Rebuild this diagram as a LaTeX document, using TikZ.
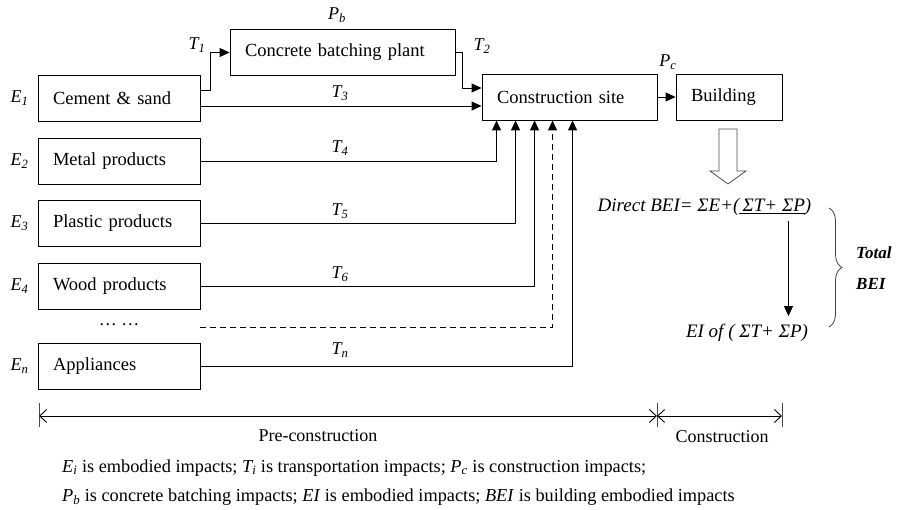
\documentclass[tikz,border=0pt]{standalone}
\usepackage{fontspec}
\setmainfont{Liberation Serif}
\usetikzlibrary{arrows.meta,positioning,decorations.pathreplacing}

\tikzset{
  box/.style={draw, line width=0.9pt, minimum height=46pt, inner xsep=15pt, inner ysep=0pt,
    align=left, font=\fontsize{18.5}{22}\selectfont},
  lbl/.style={inner sep=0pt, font=\fontsize{18}{22}\selectfont\itshape},
  txt/.style={inner sep=0pt, font=\fontsize{18}{22}\selectfont},
  arr/.style={line width=0.9pt, -{Triangle[length=10pt,width=9pt]}},
  span/.style={line width=0.9pt, {Straight Barb[length=7pt,width=13pt]}-{Straight Barb[length=7pt,width=13pt]}},
}
\newcommand{\ixsub}[2]{\textit{#1\textsubscript{#2}}}

\begin{document}
\begin{tikzpicture}[x=1pt, y=-1pt]
  \useasboundingbox (0,0) rectangle (897,510);
  % Boxes:
  \node[box, text width=132pt] (cement) at (119,98) {Cement \& sand};
  \node[box, text width=132pt] (metal) at (119,161) {Metal products};
  \node[box, text width=132pt] (plastic) at (119,223) {Plastic products};
  \node[box, text width=132pt] (wood) at (119,286) {Wood products};
  \node[txt, anchor=base] (dots) at (119,326) {… …};
  \node[box, text width=132pt] (appl) at (119,366) {Appliances};
  \node[box, text width=195pt] (batch) at (342.5,52.5) {Concrete batching plant};
  \node[box, text width=145pt] (site) at (569.5,97) {Construction site};
  \node[box, text width=76pt] (bldg) at (729,97) {Building};

  % Impact labels:
  \node[lbl, left=9pt of cement] (e1) {\ixsub{E}{1}};
  \node[lbl, left=9pt of metal] (e2) {\ixsub{E}{2}};
  \node[lbl, left=9pt of plastic] (e3) {\ixsub{E}{3}};
  \node[lbl, left=9pt of wood] (e4) {\ixsub{E}{4}};
  \node[lbl, left=9pt of appl] (en) {\ixsub{E}{n}};
  \node[lbl] (pb) at (337,15) {\ixsub{P}{b}};
  \node[lbl] (pc) at (668,62) {\ixsub{P}{c}};
  \node[lbl] (t1) at (197,45) {\ixsub{T}{1}};
  \node[lbl] (t2) at (482,46) {\ixsub{T}{2}};
  \node[lbl] (t3) at (340,93) {\ixsub{T}{3}};
  \node[lbl] (t4) at (340,148) {\ixsub{T}{4}};
  \node[lbl] (t5) at (340,211) {\ixsub{T}{5}};
  \node[lbl] (t6) at (340,274) {\ixsub{T}{6}};
  \node[lbl] (tn) at (340,350) {\ixsub{T}{n}};

  % Transport wires:
  \coordinate (c3) at ([yshift=-8pt]cement.east);
  \coordinate (dd) at (200,327);
  \draw[arr] ([yshift=8pt]cement.east) -- ++(10,0) |- (batch.west);
  \draw[arr] (batch.east) -- ++(7,0) |- ([yshift=9pt]site.west);
  \draw[arr] (c3) -- (c3 -| site.west);
  \draw[arr] (metal.east) -| ([xshift=15pt]site.south west);
  \draw[arr] (plastic.east) -| ([xshift=34pt]site.south west);
  \draw[arr] (wood.east) -| ([xshift=53pt]site.south west);
  \draw[arr, dash pattern=on 6pt off 4pt] (dd) -| ([xshift=71pt]site.south west);
  \draw[arr] (appl.east) -| ([xshift=91pt]site.south west);
  \draw[arr] (site) -- (bldg);

  % Totals:
  \draw[line width=0.8pt, black!70] (719,129) -- (737,129) -- (737,171) -- (746,171)
    -- (728,184) -- (710,171) -- (719,171) -- cycle;
  \node[lbl, font=\fontsize{19}{22}\selectfont\itshape] (dbei) at (704.5,207) {Direct BEI= ΣE+(\underline{\,ΣT+ ΣP})};
  \node[lbl, font=\fontsize{19}{22}\selectfont\itshape] (eiof) at (747,333) {EI of ( ΣT+ ΣP)};
  \coordinate (da) at ([xshift=-23pt]dbei.south east);
  \draw[arr, shorten <=5pt, shorten >=8pt] (da) -- (da |- eiof.north);
  \draw[line width=0.8pt, black!75, decorate, decoration={brace, amplitude=13pt}] (829,208) -- (829,327);
  \node[lbl, font=\fontsize{17}{31}\selectfont\bfseries\itshape, anchor=west, align=left] (tot) at (856,268) {Total\\BEI};

  % Stages:
  \coordinate (pa) at (39,416);
  \coordinate (pm) at (657,416);
  \coordinate (pe) at (782,416);
  \foreach \p in {pa,pm,pe}
    \draw[line width=0.9pt, black!70] ([yshift=13pt]\p) -- ([yshift=-11pt]\p);
  \draw[span] (pa) -- (pm);
  \draw[span] (pm) -- (pe);
  \node[txt] (pre) at (318,436) {Pre-construction};
  \node[txt] (con) at (722,437) {Construction};

  % Legend:
  \node[txt, anchor=west, font=\fontsize{18.3}{22}\selectfont] (leg1) at (62,468)
    {\ixsub{E}{i} is embodied impacts; \ixsub{T}{i} is transportation impacts; \ixsub{P}{c} is construction impacts;};
  \node[txt, anchor=west, font=\fontsize{18.3}{22}\selectfont] (leg2) at (62,497)
    {\ixsub{P}{b} is concrete batching impacts; \textit{EI} is embodied impacts; \textit{BEI} is building embodied impacts};
\end{tikzpicture}
\end{document}
